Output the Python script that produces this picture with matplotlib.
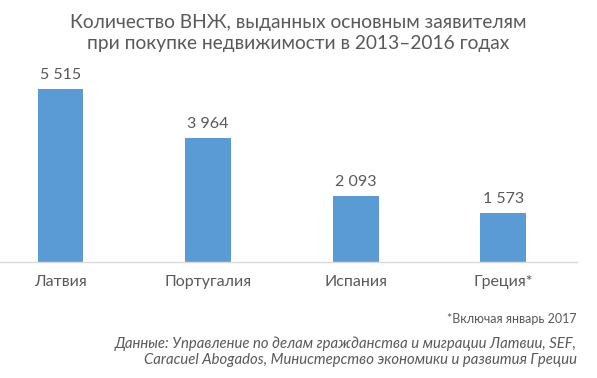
import matplotlib
matplotlib.use("Agg")
from matplotlib import pyplot as plt

# Data
countries = ["Латвия", "Португалия", "Испания", "Греция*"]
permits = [5515, 3964, 2093, 1573]
value_labels = ["5 515", "3 964", "2 093", "1 573"]

plt.rcParams['font.family'] = ['Lato', 'DejaVu Sans']
text_color = "#595959"

fig = plt.figure(figsize=(5.97, 3.78), dpi=100)
# axes: left edge at x=0, right at 577px; bottom at y=262px, top at y=60px
ax = fig.add_axes([0.0, (378 - 262) / 378, 577 / 597, (262 - 60) / 378])

x = list(range(len(countries)))
bars = ax.bar(x, permits, width=0.31, color="#5B9BD5", zorder=2)

for xi, v, lab in zip(x, permits, value_labels):
    ax.annotate(lab, (xi, v), xytext=(0, 5), textcoords="offset points",
                ha="center", va="bottom", fontsize=11.5, color=text_color)

ax.set_xlim(-0.41, 3.5)
ax.set_ylim(0, 6440)
ax.set_yticks([])
ax.set_xticks(x)
ax.set_xticklabels(countries, fontsize=11.5, color=text_color)
ax.tick_params(axis="x", length=0, pad=9.5)
for side in ["top", "right", "left"]:
    ax.spines[side].set_visible(False)
ax.spines["bottom"].set_color("#D9D9D9")
ax.spines["bottom"].set_linewidth(1)

fig.text(0.5, 1 - 33 / 378,
         "Количество ВНЖ, выданных основным заявителям\nпри покупке недвижимости в 2013–2016 годах",
         ha="center", va="center", fontsize=13.8, color=text_color, linespacing=1.3)

fig.text(577 / 597, 1 - 319 / 378, "*Включая январь 2017",
         ha="right", va="center", fontsize=9, color=text_color)
fig.text(577 / 597, 1 - 352 / 378,
         "Данные: Управление по делам гражданства и миграции Латвии, SEF,\n"
         "Caracuel Abogados, Министерство экономики и развития Греции",
         ha="right", va="center", fontsize=10.7, style="italic", color=text_color,
         linespacing=1.2)

plt.savefig("out.png", dpi=100)
plt.close()
